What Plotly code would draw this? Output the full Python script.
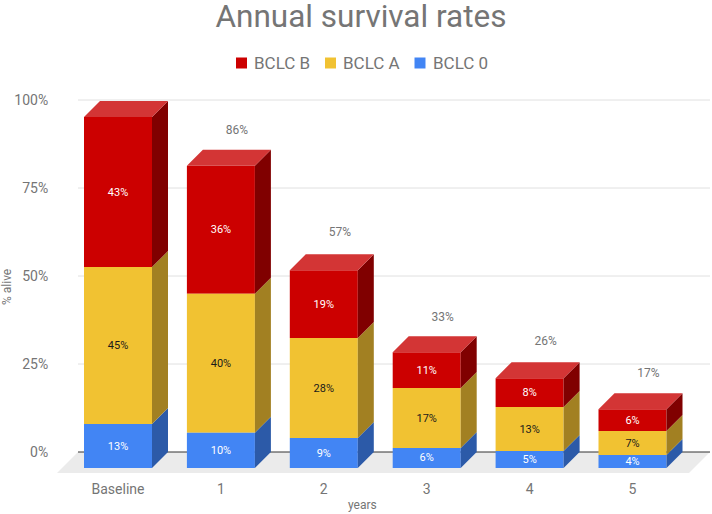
import plotly.graph_objects as go

categories = ["Baseline", "1", "2", "3", "4", "5"]
series_names = ["BCLC B", "BCLC A", "BCLC 0"]
bclc_0 = [12.5, 10.0, 8.5, 5.7, 4.8, 3.7]
bclc_a = [44.6, 39.5, 28.4, 17.0, 12.5, 6.8]
bclc_b = [42.6, 36.4, 19.3, 10.2, 8.2, 6.2]
labels_0 = ["13%", "10%", "9%", "6%", "5%", "4%"]
labels_a = ["45%", "40%", "28%", "17%", "13%", "7%"]
labels_b = ["43%", "36%", "19%", "11%", "8%", "6%"]
total_values = [100, 86, 57, 33, 26, 17]
total_labels = ["", "86%", "57%", "33%", "26%", "17%"]
y_ticks = [0, 25, 50, 75, 100]
y_tick_labels = ["0%", "25%", "50%", "75%", "100%"]

W, H = 712, 514
L, R, T, B = 57, 2, 98, 41
PW, PH = W - L - R, H - T - B
PX_X, PX_Y = 102.9, 3.52
X0 = -61 / PX_X
X1 = X0 + PW / PX_X
Y1 = 100 + 2 / PX_Y
Y0 = Y1 - PH / PX_Y
BAR_W = 68 / PX_X
DX, DY = 16 / PX_X, 16 / PX_Y
FLOOR_DX, FLOOR_DY = 21 / PX_X, 21 / PX_Y
GREY = "#757575"
FONT = "Roboto"
RED, YELLOW, BLUE = "#cc0000", "#f1c232", "#4285f4"

n = range(len(categories))
xs = list(n)
base_0 = [-DY] * len(xs)
base_a = [base_0[i] + bclc_0[i] for i in n]
base_b = [base_a[i] + bclc_a[i] for i in n]
tops = [base_b[i] + bclc_b[i] for i in n]


def side(bottoms, heights):
    px, py = [], []
    for i in n:
        r = i + BAR_W / 2
        b, t = bottoms[i], bottoms[i] + heights[i]
        px += [r, r + DX, r + DX, r, r, None]
        py += [b, b + DY, t + DY, t, b, None]
    return px, py


def top_face():
    px, py = [], []
    for i in n:
        l, r = i - BAR_W / 2, i + BAR_W / 2
        t = tops[i]
        px += [l, r, r + DX, l + DX, l, None]
        py += [t, t, t + DY, t + DY, t, None]
    return px, py


def paper_x(px):
    return (px - L) / PW


def paper_y(py):
    return (H - B - py) / PH


fig = go.Figure()
for name, vals, base, col, labs, tcol in [
    (series_names[0], bclc_b, base_b, RED, labels_b, "white"),
    (series_names[1], bclc_a, base_a, YELLOW, labels_a, "#1a1a1a"),
    (series_names[2], bclc_0, base_0, BLUE, labels_0, "white"),
]:
    fig.add_trace(go.Bar(
        name=name, x=xs, y=vals, base=base, width=BAR_W, marker_color=col,
        marker_line_width=0, text=labs, textposition="inside", constraintext="none",
        insidetextanchor="middle", textangle=0, showlegend=False,
        textfont=dict(family=FONT, size=11, color=tcol), hoverinfo="skip",
    ))

for bottoms, heights, col in [
    (base_0, bclc_0, "#2c5aa8"),
    (base_a, bclc_a, "#a28022"),
    (base_b, bclc_b, "#800000"),
]:
    px, py = side(bottoms, heights)
    fig.add_trace(go.Scatter(x=px, y=py, mode="lines", fill="toself", fillcolor=col,
                             line=dict(width=0), showlegend=False, hoverinfo="skip"))

px, py = top_face()
fig.add_trace(go.Scatter(x=px, y=py, mode="lines", fill="toself", fillcolor="#d33535",
                         line=dict(width=0), showlegend=False, hoverinfo="skip"))

fig.add_trace(go.Scatter(
    x=[i + DX for i in n], y=[v + 5.2 for v in total_values], mode="text", text=total_labels,
    textposition="middle center", textfont=dict(family=FONT, size=12, color=GREY),
    showlegend=False, hoverinfo="skip", cliponaxis=False,
))

shapes = [dict(
    type="path", xref="x", yref="y", layer="below", line=dict(width=0), fillcolor="#ebebeb",
    path=f"M{X0},{-FLOOR_DY} L{X1 - FLOOR_DX},{-FLOOR_DY} L{X1},0 L{X0 + FLOOR_DX},0 Z",
)]
for t in y_ticks:
    shapes.append(dict(
        type="line", xref="x", yref="y", layer="below", x0=X0 + FLOOR_DX, x1=X1, y0=t, y1=t,
        line=dict(color="#333333" if t == 0 else "#e0e0e0", width=1),
    ))

annotations = [
    dict(text="years", xref="paper", yref="paper", x=paper_x(362), y=paper_y(505), showarrow=False,
         xanchor="center", yanchor="middle", font=dict(family=FONT, size=12, color=GREY)),
    dict(text="% alive", xref="paper", yref="paper", x=paper_x(7), y=paper_y(287), showarrow=False,
         textangle=-90, xanchor="center", yanchor="middle", font=dict(family=FONT, size=12, color=GREY)),
]
for name, col, sw, tx in zip(series_names, [RED, YELLOW, BLUE], [236, 325, 414.5], [254, 343, 432.5]):
    shapes.append(dict(type="rect", xref="paper", yref="paper", line=dict(width=0), fillcolor=col,
                       x0=paper_x(sw), x1=paper_x(sw + 11), y0=paper_y(68.5), y1=paper_y(57.5)))
    annotations.append(dict(text=name, xref="paper", yref="paper", x=paper_x(tx), y=paper_y(63),
                            showarrow=False, xanchor="left", yanchor="middle", xshift=-2,
                            font=dict(family=FONT, size=17, color=GREY)))

fig.update_layout(
    width=W, height=H, autosize=False, paper_bgcolor="white", plot_bgcolor="rgba(0,0,0,0)",
    margin=dict(l=L, r=R, t=T, b=B), barmode="overlay", shapes=shapes, annotations=annotations,
    showlegend=False, font=dict(family=FONT, color=GREY),
    title=dict(text="Annual survival rates", x=0.507, xanchor="center", y=0.969, yanchor="middle",
               font=dict(family=FONT, size=31.5, color=GREY)),
    xaxis=dict(range=[X0, X1], tickmode="array", tickvals=xs, ticktext=categories, showgrid=False,
               zeroline=False, showline=False, ticks="outside", ticklen=3, tickcolor="rgba(0,0,0,0)",
               tickfont=dict(family=FONT, size=14, color=GREY)),
    yaxis=dict(range=[Y0, Y1], tickmode="array", tickvals=y_ticks, ticktext=y_tick_labels,
               showgrid=False, zeroline=False, showline=False, ticks="outside", ticklen=5,
               tickcolor="rgba(0,0,0,0)", tickfont=dict(family=FONT, size=14, color=GREY)),
)
fig.write_html("out.html", config={"displayModeBar": False},
               post_script="document.body.style.margin='0';document.documentElement.style.overflow='hidden';")
